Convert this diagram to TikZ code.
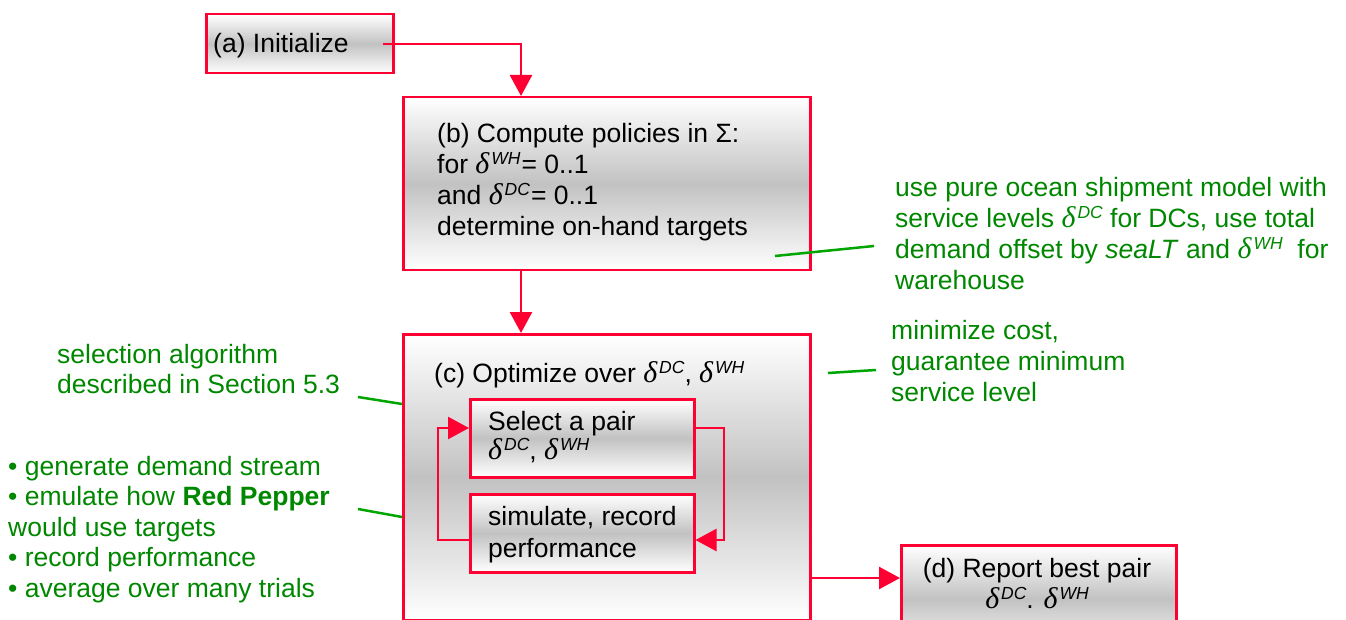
\documentclass[tikz,border=0pt]{standalone}
\usepackage{fontspec}
\setmainfont{Liberation Sans}
\newfontfamily\deltafont{Liberation Serif}
\usetikzlibrary{arrows.meta}
\definecolor{boxred}{RGB}{255,0,51}
\definecolor{notegreen}{RGB}{0,135,0}
\definecolor{leadgreen}{RGB}{0,165,0}
% italic delta with a raised italic tag
\newcommand\dvar[1]{{\deltafont\itshape\fontsize{30}{30}\selectfont δ}\kern2pt\raisebox{9pt}{\fontsize{17.5}{17.5}\selectfont\itshape #1}}

\begin{document}
\begin{tikzpicture}[x=1pt,y=-1pt,
  stepbox/.style={draw=boxred, line width=2.5pt, inner sep=0pt, anchor=north west,
    top color=white, bottom color=white, middle color=black!24},
  flow/.style={draw=boxred, line width=2.5pt, -{Triangle[length=21pt,width=22pt]}},
  lbl/.style={inner sep=0pt, anchor=base west, align=left,
    font=\fontsize{26.5}{31.3}\selectfont},
  note/.style={lbl, text=notegreen},
  lead/.style={draw=leadgreen, line width=2.5pt}]

\useasboundingbox (0,0) rectangle (1346,620);
\clip (0,0) rectangle (1346,620);

% process boxes
\node[stepbox, minimum width=187pt, minimum height=59pt]  (a)   at (205,13)  {};
\node[stepbox, minimum width=407pt, minimum height=173pt] (b)   at (402,96)  {};
\node[stepbox, minimum width=407pt, minimum height=286pt] (c)   at (402,333) {};
\node[stepbox, minimum width=224pt, minimum height=78pt]  (sel) at (469,398) {};
\node[stepbox, minimum width=224pt, minimum height=78pt]  (sim) at (469,493) {};
\node[stepbox, minimum width=275pt, minimum height=108pt] (d)   at (900,544) {};

% box texts (multi-line texts are placed by the baseline of their last line)
\node[lbl] (ta) at (213,53) {(a) Initialize};
\node[lbl] (tb) at (437,236) {(b) Compute policies in Σ:\\
  for \dvar{WH}\kern1pt= 0..1\\
  and \dvar{DC}\kern1pt= 0..1\\
  determine on-hand targets};
\node[lbl] (tc) at (434,382) {(c) Optimize over \dvar{DC}, \dvar{WH}};
\node[lbl] (tsel) at (488,459) {Select a pair\\[-3pt]\dvar{DC}, \dvar{WH}};
\node[lbl] (tsim) at (488,557) {simulate, record\\performance};
\node[lbl, anchor=base, align=center] (td) at (1037,608) {(d) Report best pair\\[-1pt]\dvar{DC}. \dvar{WH}};

% connectors
\coordinate (aout) at (383,44);
\coordinate (bin)  at (521,96);
\coordinate (bc)   at (521,0);
\coordinate (lt)   at (724,428);
\coordinate (rb)   at (724,540);
\coordinate (lb)   at (438,540);
\coordinate (ltl)  at (438,428);
\coordinate (cd)   at (0,578);
\draw[flow] (aout) -| (bin);
\draw[flow] (b.south -| bc) -- (c.north -| bc);
\draw[flow] (sel.east |- lt) -- (lt) -- (rb) -- (sim.east |- rb);
\draw[flow] (sim.west |- lb) -- (lb) -- (ltl) -- (sel.west |- ltl);
\draw[flow] (c.east |- cd) -- (d.west |- cd);

% annotations
\node[note] (n1) at (895,290) {use pure ocean shipment model with\\
  service levels \dvar{DC} for DCs, use total\\
  demand offset by \textit{seaLT} and \dvar{WH}\ \ for\\
  warehouse};
\node[note, font=\fontsize{26.5}{31}\selectfont] (n2) at (891,401) {minimize cost,\\guarantee minimum\\service level};
\node[note, font=\fontsize{26.5}{30}\selectfont] (n3) at (57,393) {selection algorithm\\described in Section 5.3};
\node[note, font=\fontsize{26.5}{30.5}\selectfont] (n4) at (8,597) {• generate demand stream\\
  • emulate how \textbf{Red Pepper}\\
  would use targets\\
  • record performance\\
  • average over many trials};

\coordinate (l1a) at (775,256); \coordinate (l1b) at (874,246);
\coordinate (l2a) at (828,373); \coordinate (l2b) at (876,370);
\coordinate (l3a) at (358,397);
\coordinate (l4a) at (358,509);
\draw[lead] (l1a) -- (l1b);
\draw[lead] (l2a) -- (l2b);
\draw[lead] (l3a) -- (c.west |- 0,404);
\draw[lead] (l4a) -- (c.west |- 0,517);
\end{tikzpicture}
\end{document}
